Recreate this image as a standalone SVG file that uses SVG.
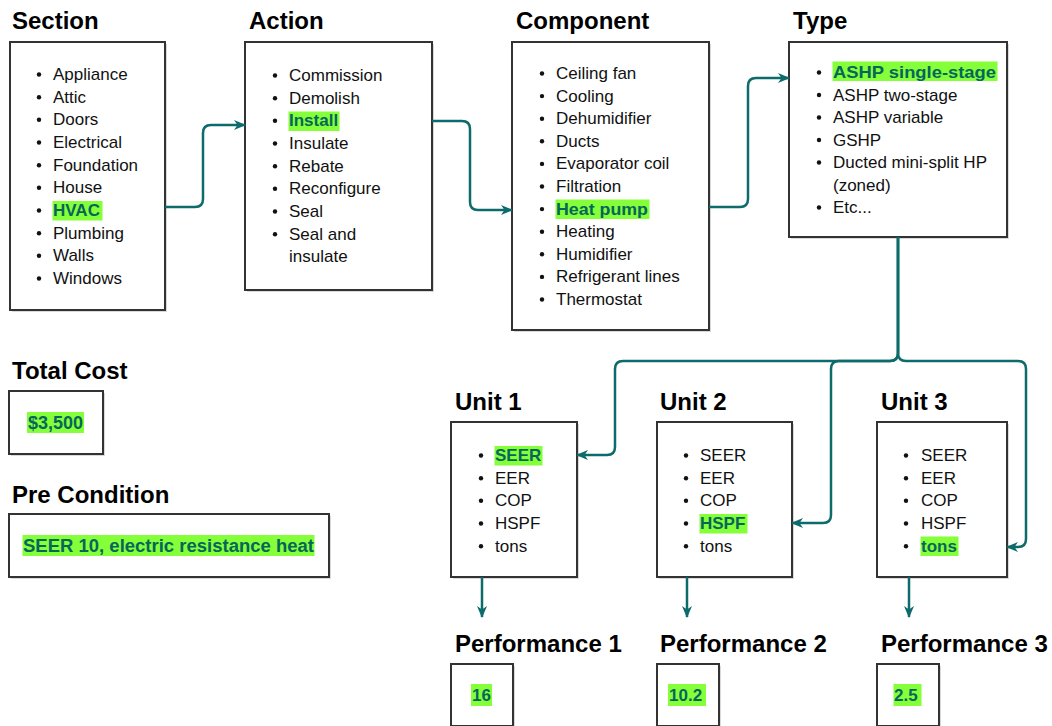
<svg xmlns="http://www.w3.org/2000/svg" width="1052" height="726" viewBox="0 0 1052 726">
<defs>
<style>
.title{font-family:"Liberation Sans",Arial,sans-serif;font-weight:bold;font-size:24px;fill:#000}
.item{font-family:"Liberation Sans",Arial,sans-serif;font-size:17px;fill:#111}
.hi{font-family:"Liberation Sans",Arial,sans-serif;font-weight:bold;font-size:17px;fill:#06665a}
.hi18{font-family:"Liberation Sans",Arial,sans-serif;font-weight:bold;font-size:18px;fill:#06665a}
.hl{fill:#84ff3a}
.box{fill:#fff;stroke:#333;stroke-width:2}
.shadow{fill:#aaa;opacity:0.45}
.bul{fill:#111}
.conn{fill:none;stroke:#0e6b6b;stroke-width:2.5}
</style>
<marker id="arr" viewBox="0 0 12 10" refX="11" refY="5" markerWidth="12" markerHeight="10" markerUnits="userSpaceOnUse" orient="auto">
<path d="M0,0 L12,5 L0,10 L3.5,5 Z" fill="#0e6b6b"/>
</marker>
</defs>

<g id="section">
<text class="title" x="12" y="29">Section</text>
<rect class="shadow" x="12" y="44" width="155" height="268"/>
<rect class="box" x="10" y="42" width="155" height="268"/>
<g class="bul"><circle cx="39" cy="74.5" r="2.2"/><circle cx="39" cy="97.2" r="2.2"/><circle cx="39" cy="119.8" r="2.2"/><circle cx="39" cy="142.5" r="2.2"/><circle cx="39" cy="165.2" r="2.2"/><circle cx="39" cy="187.8" r="2.2"/><circle cx="39" cy="210.5" r="2.2"/><circle cx="39" cy="233.2" r="2.2"/><circle cx="39" cy="255.8" r="2.2"/><circle cx="39" cy="278.5" r="2.2"/></g>
<text class="item" x="53" y="80">Appliance</text>
<text class="item" x="53" y="102.7">Attic</text>
<text class="item" x="53" y="125.3">Doors</text>
<text class="item" x="53" y="148">Electrical</text>
<text class="item" x="53" y="170.7">Foundation</text>
<text class="item" x="53" y="193.3">House</text>
<rect class="hl" x="52.5" y="201" width="50" height="19.5"/>
<text class="hi" x="53" y="216">HVAC</text>
<text class="item" x="53" y="238.7">Plumbing</text>
<text class="item" x="53" y="261.3">Walls</text>
<text class="item" x="53" y="284">Windows</text>
</g>

<g id="action">
<text class="title" x="249" y="29">Action</text>
<rect class="shadow" x="247" y="44" width="187" height="248"/>
<rect class="box" x="245" y="42" width="187" height="248"/>
<g class="bul"><circle cx="275" cy="75.5" r="2.2"/><circle cx="275" cy="98.2" r="2.2"/><circle cx="275" cy="120.8" r="2.2"/><circle cx="275" cy="143.5" r="2.2"/><circle cx="275" cy="166.2" r="2.2"/><circle cx="275" cy="188.8" r="2.2"/><circle cx="275" cy="211.5" r="2.2"/><circle cx="275" cy="234.2" r="2.2"/></g>
<text class="item" x="289" y="81">Commission</text>
<text class="item" x="289" y="103.7">Demolish</text>
<rect class="hl" x="288.5" y="111.5" width="51" height="19.5"/>
<text class="hi" x="289" y="126.3">Install</text>
<text class="item" x="289" y="149">Insulate</text>
<text class="item" x="289" y="171.7">Rebate</text>
<text class="item" x="289" y="194.3">Reconfigure</text>
<text class="item" x="289" y="217">Seal</text>
<text class="item" x="289" y="239.7">Seal and</text>
<text class="item" x="289" y="262.3">insulate</text>
</g>

<g id="component">
<text class="title" x="516" y="29">Component</text>
<rect class="shadow" x="514" y="44" width="197" height="288"/>
<rect class="box" x="512" y="42" width="197" height="288"/>
<g class="bul"><circle cx="542" cy="73.5" r="2.2"/><circle cx="542" cy="96.1" r="2.2"/><circle cx="542" cy="118.7" r="2.2"/><circle cx="542" cy="141.3" r="2.2"/><circle cx="542" cy="163.9" r="2.2"/><circle cx="542" cy="186.5" r="2.2"/><circle cx="542" cy="209.1" r="2.2"/><circle cx="542" cy="231.7" r="2.2"/><circle cx="542" cy="254.3" r="2.2"/><circle cx="542" cy="276.9" r="2.2"/><circle cx="542" cy="299.5" r="2.2"/></g>
<text class="item" x="556" y="79">Ceiling fan</text>
<text class="item" x="556" y="101.6">Cooling</text>
<text class="item" x="556" y="124.2">Dehumidifier</text>
<text class="item" x="556" y="146.8">Ducts</text>
<text class="item" x="556" y="169.4">Evaporator coil</text>
<text class="item" x="556" y="192">Filtration</text>
<rect class="hl" x="555.5" y="199.5" width="94" height="19.5"/>
<text class="hi" x="556" y="214.6" textLength="92" lengthAdjust="spacingAndGlyphs">Heat pump</text>
<text class="item" x="556" y="237.2">Heating</text>
<text class="item" x="556" y="259.8">Humidifier</text>
<text class="item" x="556" y="282.4">Refrigerant lines</text>
<text class="item" x="556" y="305">Thermostat</text>
</g>

<g id="type">
<text class="title" x="793" y="29">Type</text>
<rect class="shadow" x="791" y="44" width="218" height="195"/>
<rect class="box" x="789" y="42" width="218" height="195"/>
<g class="bul"><circle cx="819" cy="72.5" r="2.2"/><circle cx="819" cy="95" r="2.2"/><circle cx="819" cy="117.5" r="2.2"/><circle cx="819" cy="140" r="2.2"/><circle cx="819" cy="162.5" r="2.2"/><circle cx="819" cy="207.5" r="2.2"/></g>
<rect class="hl" x="832.5" y="61.5" width="165" height="19.5"/>
<text class="hi" x="833" y="78" textLength="163" lengthAdjust="spacingAndGlyphs">ASHP single-stage</text>
<text class="item" x="833" y="100.5">ASHP two-stage</text>
<text class="item" x="833" y="123">ASHP variable</text>
<text class="item" x="833" y="145.5">GSHP</text>
<text class="item" x="833" y="168">Ducted mini-split HP</text>
<text class="item" x="833" y="190.5">(zoned)</text>
<text class="item" x="833" y="213">Etc...</text>
</g>

<g id="total-cost">
<text class="title" x="12" y="379">Total Cost</text>
<rect class="shadow" x="11" y="393" width="94" height="63"/>
<rect class="box" x="9" y="391" width="94" height="63"/>
<rect class="hl" x="27" y="412" width="57" height="21"/>
<text class="hi18" x="28" y="429">$3,500</text>
</g>

<g id="pre-condition">
<text class="title" x="12" y="503">Pre Condition</text>
<rect class="shadow" x="11" y="516" width="320" height="63"/>
<rect class="box" x="9" y="514" width="320" height="63"/>
<rect class="hl" x="22.5" y="535" width="292" height="21"/>
<text class="hi18" x="23" y="552" textLength="291" lengthAdjust="spacingAndGlyphs">SEER 10, electric resistance heat</text>
</g>

<g id="unit1">
<text class="title" x="455" y="410">Unit 1</text>
<rect class="shadow" x="453" y="424" width="126" height="155"/>
<rect class="box" x="451" y="422" width="126" height="155"/>
<g class="bul"><circle cx="481" cy="455.5" r="2.2"/><circle cx="481" cy="478.2" r="2.2"/><circle cx="481" cy="500.8" r="2.2"/><circle cx="481" cy="523.5" r="2.2"/><circle cx="481" cy="546.2" r="2.2"/></g>
<rect class="hl" x="494.5" y="446" width="48" height="19.5"/>
<text class="hi" x="495" y="461">SEER</text>
<text class="item" x="495" y="483.7">EER</text>
<text class="item" x="495" y="506.3">COP</text>
<text class="item" x="495" y="529">HSPF</text>
<text class="item" x="495" y="551.7">tons</text>
</g>

<g id="unit2">
<text class="title" x="660" y="410">Unit 2</text>
<rect class="shadow" x="659" y="424" width="135" height="155"/>
<rect class="box" x="657" y="422" width="135" height="155"/>
<g class="bul"><circle cx="686" cy="455.5" r="2.2"/><circle cx="686" cy="478.2" r="2.2"/><circle cx="686" cy="500.8" r="2.2"/><circle cx="686" cy="523.5" r="2.2"/><circle cx="686" cy="546.2" r="2.2"/></g>
<text class="item" x="700" y="461">SEER</text>
<text class="item" x="700" y="483.7">EER</text>
<text class="item" x="700" y="506.3">COP</text>
<rect class="hl" x="699.5" y="514" width="48" height="19.5"/>
<text class="hi" x="700" y="529">HSPF</text>
<text class="item" x="700" y="551.7">tons</text>
</g>

<g id="unit3">
<text class="title" x="881" y="410">Unit 3</text>
<rect class="shadow" x="879" y="424" width="130" height="155"/>
<rect class="box" x="877" y="422" width="130" height="155"/>
<g class="bul"><circle cx="906" cy="455.5" r="2.2"/><circle cx="906" cy="478.2" r="2.2"/><circle cx="906" cy="500.8" r="2.2"/><circle cx="906" cy="523.5" r="2.2"/><circle cx="906" cy="546.2" r="2.2"/></g>
<text class="item" x="921" y="461">SEER</text>
<text class="item" x="921" y="483.7">EER</text>
<text class="item" x="921" y="506.3">COP</text>
<text class="item" x="921" y="529">HSPF</text>
<rect class="hl" x="920.5" y="536.5" width="38" height="19.5"/>
<text class="hi" x="921" y="551.7">tons</text>
</g>

<g id="performance1">
<text class="title" x="455" y="652">Performance 1</text>
<rect class="shadow" x="453" y="666" width="62" height="62"/>
<rect class="box" x="451" y="664" width="62" height="62"/>
<rect class="hl" x="471" y="684" width="21" height="22"/>
<text class="hi" x="472" y="701">16</text>
</g>

<g id="performance2">
<text class="title" x="660" y="652">Performance 2</text>
<rect class="shadow" x="659" y="666" width="62" height="62"/>
<rect class="box" x="657" y="664" width="62" height="62"/>
<rect class="hl" x="668" y="684" width="38" height="22"/>
<text class="hi" x="669" y="701">10.2</text>
</g>

<g id="performance3">
<text class="title" x="881" y="652">Performance 3</text>
<rect class="shadow" x="879" y="666" width="62" height="62"/>
<rect class="box" x="877" y="664" width="62" height="62"/>
<rect class="hl" x="893.5" y="684" width="28" height="22"/>
<text class="hi" x="894" y="701">2.5</text>
</g>

<g id="connectors">
<path class="conn" marker-end="url(#arr)" d="M165,207 H195 Q203,207 203,199 V133 Q203,125 211,125 H245"/>
<path class="conn" marker-end="url(#arr)" d="M432,121 H462 Q470,121 470,129 V202 Q470,210 478,210 H512"/>
<path class="conn" marker-end="url(#arr)" d="M709,207 H740 Q748,207 748,199 V86 Q748,78 756,78 H789"/>
<path class="conn" marker-end="url(#arr)" d="M898,237 V353 Q898,361 890,361 H623 Q615,361 615,369 V447 Q615,455 607,455 H577"/>
<path class="conn" marker-end="url(#arr)" d="M898,237 V353 Q898,361 890,361 H839 Q831,361 831,369 V515 Q831,523 823,523 H792"/>
<path class="conn" marker-end="url(#arr)" d="M898,237 V353 Q898,361 906,361 H1018 Q1026,361 1026,369 V539 Q1026,547 1018,547 H1007"/>
<path class="conn" marker-end="url(#arr)" d="M482,577 V617"/>
<path class="conn" marker-end="url(#arr)" d="M687,577 V617"/>
<path class="conn" marker-end="url(#arr)" d="M909,577 V617"/>
</g>
</svg>
